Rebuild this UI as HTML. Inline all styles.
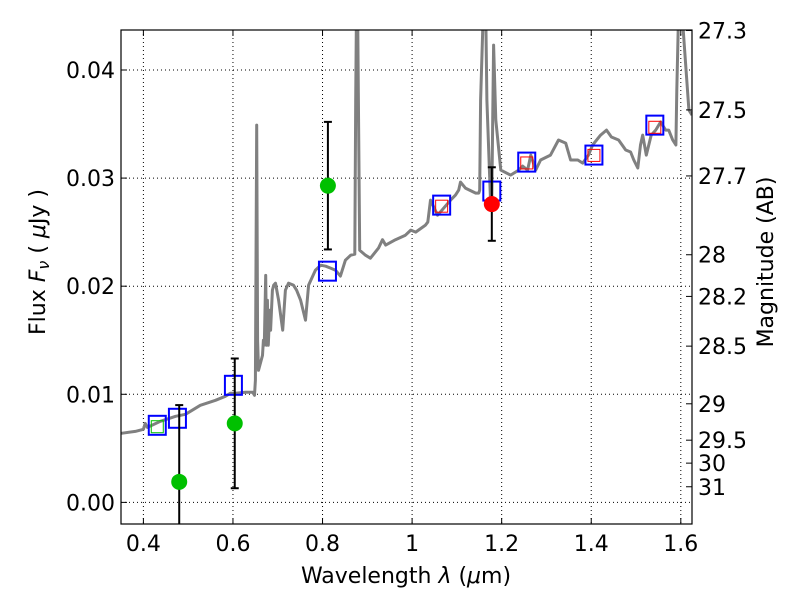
<!DOCTYPE html>
<html><head><meta charset="utf-8"><style>
body{margin:0;background:#fff;}
svg{font-family:"DejaVu Sans","Liberation Sans",sans-serif;}
</style></head><body>
<svg id="c" width="800" height="600">
<g id="grid"></g>
<g id="plot"></g>
<g id="axes"></g>
</svg>
<script>
const specLam=[0.351,0.382,0.400,0.404,0.409,0.438,0.472,0.494,0.527,0.561,0.583,0.594,0.606,0.628,0.644,0.648,0.650,0.653,0.655,0.657,0.666,0.668,0.670,0.673,0.675,0.677,0.679,0.682,0.684,0.688,0.691,0.695,0.702,0.711,0.717,0.724,0.735,0.742,0.751,0.762,0.769,0.784,0.796,0.807,0.818,0.829,0.840,0.851,0.863,0.872,0.874,0.876,0.878,0.880,0.883,0.896,0.907,0.925,0.934,0.941,0.963,0.985,0.997,1.008,1.030,1.035,1.041,1.057,1.086,1.097,1.104,1.108,1.119,1.142,1.149,1.151,1.153,1.160,1.164,1.167,1.175,1.178,1.180,1.182,1.187,1.198,1.220,1.238,1.247,1.258,1.265,1.276,1.287,1.309,1.327,1.343,1.354,1.370,1.381,1.394,1.403,1.421,1.434,1.445,1.461,1.477,1.488,1.495,1.504,1.510,1.515,1.523,1.534,1.544,1.555,1.566,1.573,1.582,1.589,1.591,1.596,1.600,1.607,1.618,1.625];
const specFlux=[0.00639,0.00657,0.00676,0.00731,0.00694,0.0075,0.00796,0.00815,0.00898,0.00944,0.00981,0.01009,0.01009,0.01019,0.01019,0.00991,0.0113,0.0349,0.0150,0.01222,0.0136,0.0150,0.01454,0.0210,0.01454,0.0187,0.01454,0.01778,0.01593,0.01963,0.0201,0.02028,0.0187,0.01593,0.01963,0.02028,0.0201,0.01963,0.0187,0.01685,0.0201,0.02148,0.02194,0.02185,0.02167,0.02148,0.02093,0.0224,0.02287,0.02296,0.0372,0.047,0.047,0.0372,0.02333,0.02287,0.02259,0.02352,0.0243,0.0238,0.0243,0.02472,0.02519,0.025,0.02565,0.02593,0.02796,0.02657,0.02796,0.02843,0.02889,0.02963,0.02907,0.02861,0.02861,0.02889,0.0372,0.047,0.047,0.0372,0.02796,0.02796,0.03537,0.0423,0.03537,0.03074,0.03028,0.03074,0.03111,0.03074,0.03213,0.03074,0.03167,0.03213,0.03352,0.03324,0.03167,0.03167,0.03139,0.03213,0.03306,0.03398,0.03444,0.0338,0.03352,0.0326,0.03241,0.03167,0.03093,0.03306,0.03398,0.03213,0.03398,0.03444,0.0352,0.03444,0.03444,0.03352,0.03306,0.03815,0.047,0.047,0.0428,0.0363,0.03583,0.0340];
const bandLam=[0.431,0.476,0.601,0.811,1.066,1.178,1.256,1.406,1.542];
const modelFlux=[0.00713,0.00778,0.01083,0.02139,0.0275,0.0288,0.03148,0.03213,0.0349];
const redLam=[1.066,1.256,1.406,1.542];
const redFlux=[0.0274,0.0314,0.0321,0.0347];
const greenBoxLam=[0.431];
const greenBoxFlux=[0.0070];
const obsLam=[0.480,0.604,0.812];
const obsFlux=[0.0019,0.00731,0.0293];
const obsErr=[0.0071,0.006,0.0059];
const detLam=[1.178];
const detFlux=[0.0276];
const detErr=[0.0034];
const xTicks=[0.4,0.6,0.8,1.0,1.2,1.4,1.6];
const xTickLabels=["0.4","0.6","0.8","1","1.2","1.4","1.6"];
const yTicks=[0,0.01,0.02,0.03,0.04];
const yTickLabels=["0.00","0.01","0.02","0.03","0.04"];
const magTicks=[27.3,27.5,27.7,28,28.2,28.5,29,29.5,30,31];

const L=121,R=692,T=30,B=524;
const xMin=0.35,xMax=1.625,yMin=-0.002,yMax=0.0437;
const X=v=>L+(v-xMin)/(xMax-xMin)*(R-L);
const Y=v=>B-(v-yMin)/(yMax-yMin)*(B-T);
const NS="http://www.w3.org/2000/svg";
function mk(tag,attrs,parent,text){const e=document.createElementNS(NS,tag);for(const k in attrs)e.setAttribute(k,attrs[k]);if(text!==undefined)e.textContent=text;parent.appendChild(e);return e;}
const grid=document.getElementById('grid'),plot=document.getElementById('plot'),axes=document.getElementById('axes');
const defs=mk('defs',{},document.getElementById('c'));
const cp=mk('clipPath',{id:'clip'},defs);mk('rect',{x:L,y:T,width:R-L,height:B-T},cp);
plot.setAttribute('clip-path','url(#clip)');

xTicks.forEach((t,i)=>{const x=X(t);
 const g=mk('line',{x1:x,x2:x,y1:T,y2:B,stroke:'#000','stroke-width':1,'stroke-dasharray':'1,3'},grid);
 
 mk('line',{x1:x,x2:x,y1:B,y2:B-6,stroke:'#000'},axes);mk('line',{x1:x,x2:x,y1:T,y2:T+6,stroke:'#000'},axes);
 const l=mk('text',{x:x,y:B+27,'font-size':22,'text-anchor':'middle'},axes,xTickLabels[i]);
 });
yTicks.forEach((t,i)=>{const y=Y(t);
 const g=mk('line',{x1:L,x2:R,y1:y,y2:y,stroke:'#000','stroke-width':1,'stroke-dasharray':'1,3'},grid);
 
 mk('line',{x1:L,x2:L+6,y1:y,y2:y,stroke:'#000'},axes);
 const l=mk('text',{x:L-6,y:y+8,'font-size':22,'text-anchor':'end'},axes,yTickLabels[i]);
 });
magTicks.forEach(m=>{const f=Math.pow(10,(23.9-m)/2.5);const y=Y(f);
 mk('line',{x1:R,x2:R-6,y1:y,y2:y,stroke:'#000'},axes);
 const l=mk('text',{x:R+6,y:y+8,'font-size':22},axes,String(m));
 });

let d='';specLam.forEach((v,i)=>{d+=(i?'L':'M')+X(v).toFixed(1)+','+Y(specFlux[i]).toFixed(1);});
const sp=mk('path',{d:d,fill:'none',stroke:'#808080','stroke-width':3,'stroke-linejoin':'round'},plot);


function bar(lam,f,e,col,name){const x=X(lam);
 mk('line',{x1:x,x2:x,y1:Y(f+e),y2:Y(f-e),stroke:'#000','stroke-width':2},plot);
 mk('line',{x1:x-4,x2:x+4,y1:Y(f+e),y2:Y(f+e),stroke:'#000','stroke-width':2},plot);
 mk('line',{x1:x-4,x2:x+4,y1:Y(f-e),y2:Y(f-e),stroke:'#000','stroke-width':2},plot);
 const c=mk('circle',{cx:x,cy:Y(f),r:8,fill:col},plot);
 }
bandLam.forEach((v,i)=>{const s=mk('rect',{x:X(v)-8.5,y:Y(modelFlux[i])-9.5,width:17,height:19,fill:'none',stroke:'#0000ff','stroke-width':2},plot);
 });
redLam.forEach((v,i)=>{const s=mk('rect',{x:X(v)-6,y:Y(redFlux[i])-6,width:12,height:12,fill:'none',stroke:'#ff0000','stroke-width':1},plot);
 });
greenBoxLam.forEach((v,i)=>{const s=mk('rect',{x:X(v)-6,y:Y(greenBoxFlux[i])-6,width:12,height:12,fill:'none',stroke:'#00c000','stroke-width':1},plot);
 });
obsLam.forEach((v,i)=>bar(v,obsFlux[i],obsErr[i],'#00c000','green-photometry-point'));
detLam.forEach((v,i)=>bar(v,detFlux[i],detErr[i],'#ff0000','red-photometry-point'));

mk('rect',{x:L,y:T,width:R-L,height:B-T,fill:'none',stroke:'#000','stroke-width':1.2},axes);
const xt=mk('text',{x:406,y:583,'font-size':22,'text-anchor':'middle'},axes);
xt.innerHTML='Wavelength  <tspan font-style="italic">λ</tspan> (<tspan font-style="italic">μ</tspan>m)';

const yt=mk('text',{x:0,y:0,'font-size':22,'text-anchor':'middle',transform:'translate(45,262) rotate(-90)'},axes);
yt.innerHTML='Flux  <tspan font-style="italic">F</tspan><tspan font-style="italic" font-size="16" dy="4">ν</tspan><tspan dy="-4">  (  </tspan><tspan font-style="italic">μ</tspan>Jy )';

const mt=mk('text',{x:0,y:0,'font-size':22,'text-anchor':'middle',transform:'translate(773,262) rotate(-90)'},axes,'Magnitude (AB)');

</script>
</body></html>
